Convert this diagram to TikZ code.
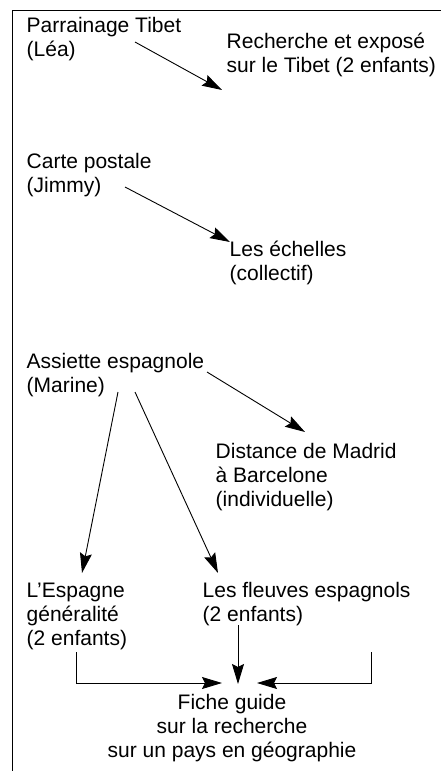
\documentclass[tikz,border=0pt]{standalone}
\usepackage{fontspec}
\setmainfont{Liberation Sans}
\usetikzlibrary{arrows.meta}
\tikzset{
  txt/.style={anchor=north west, inner sep=0pt, align=left, font=\fontsize{21}{24}\selectfont},
  ctxt/.style={anchor=north, inner sep=0pt, align=center, font=\fontsize{21}{24}\selectfont},
  arr/.style={line width=0.9pt, -{Stealth[length=20pt,width=12pt,inset=3pt]}},
  frame/.style={line width=1pt},
  conn/.style={line width=0.9pt}
}
\begin{document}
\begin{tikzpicture}[x=1pt,y=-1pt]
\useasboundingbox (0,0) rectangle (441,771);
% frame
\coordinate (ftr) at (441,10);
\coordinate (ftl) at (12,10);
\coordinate (fbl) at (12,771);
\draw[frame] (ftr) -- (ftl) -- (fbl);
% texts
\node[txt] (lea) at (26.5,15.2) {\strut Parrainage Tibet\\(Léa)};
\node[txt] (tibet) at (226.5,31.5) {\strut Recherche et exposé\\sur le Tibet (2 enfants)};
\node[txt] (jimmy) at (26.5,151.2) {\strut Carte postale\\(Jimmy)};
\node[txt] (echelles) at (229.5,239.2) {\strut Les échelles\\(collectif)};
\node[txt] (marine) at (26.5,351.2) {\strut Assiette espagnole\\(Marine)};
\node[txt] (madrid) at (215.5,441.2) {\strut Distance de Madrid\\à Barcelone\\(individuelle)};
\node[txt] (espagne) at (26.5,580.2) {\strut L’Espagne\\généralité\\(2 enfants)};
\node[txt] (fleuves) at (202.5,580.2) {\strut Les fleuves espagnols\\(2 enfants)};
\node[ctxt] (fiche) at (232,692.5) {\strut Fiche guide\\sur la recherche\\sur un pays en géographie};
% connector end points
\coordinate (a1s) at (135,42);   \coordinate (a1e) at (222,90);
\coordinate (a2s) at (125,187);  \coordinate (a2e) at (230,242);
\coordinate (a3s) at (207,372);  \coordinate (a3e) at (305,432);
\coordinate (a4s) at (118,392);  \coordinate (a4e) at (82,573);
\coordinate (a5s) at (135,392);  \coordinate (a5e) at (218,573);
\coordinate (a6s) at (238,625);  \coordinate (a6e) at (238,684);
\coordinate (a7s) at (76,652);   \coordinate (a7e) at (222,683);
\coordinate (a8s) at (371,652);  \coordinate (a8e) at (257,683);
% connectors
\draw[arr] (a1s) -- (a1e);
\draw[arr] (a2s) -- (a2e);
\draw[arr] (a3s) -- (a3e);
\draw[arr] (a4s) -- (a4e);
\draw[arr] (a5s) -- (a5e);
\draw[arr] (a6s) -- (a6e);
\draw[arr] (a7s) |- (a7e);
\draw[arr] (a8s) |- (a8e);
\end{tikzpicture}
\end{document}
